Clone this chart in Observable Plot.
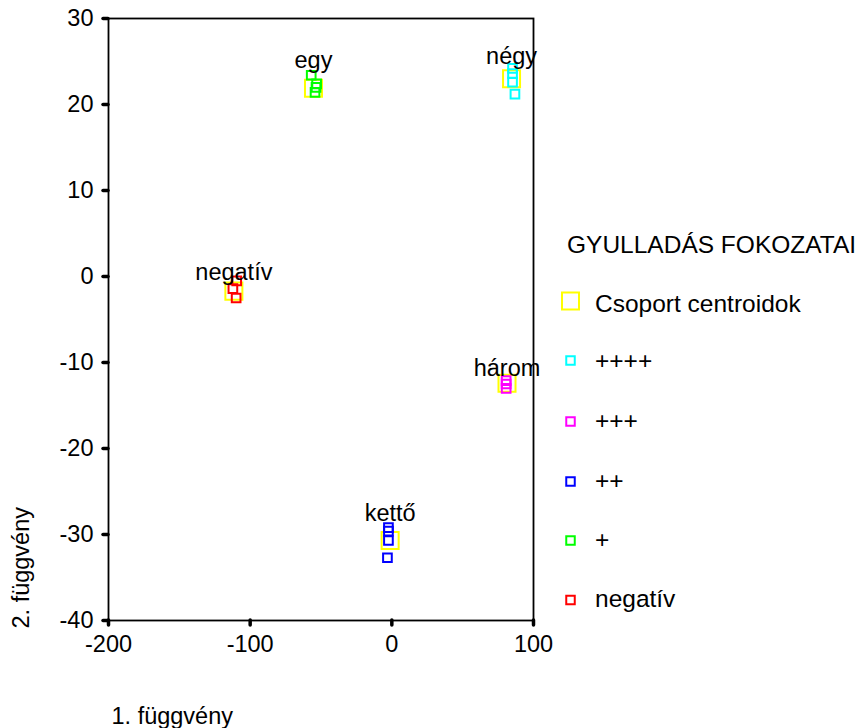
<!DOCTYPE html>
<html>
<head>
<meta charset="utf-8">
<script src="https://cdn.jsdelivr.net/npm/d3@7"></script>
<script src="https://cdn.jsdelivr.net/npm/@observablehq/plot@0.6"></script>
<style>
  html, body { margin: 0; padding: 0; background: #fff; }
  #wrap { position: relative; width: 863px; height: 728px; font-family: "Liberation Sans", Arial, sans-serif; }
  #wrap svg { position: absolute; left: 0; top: 0; }
</style>
</head>
<body>
<div id="wrap"></div>
<script>
// ---- data ----
const groups = ["negatív", "+", "++", "+++", "++++"];
const groupNames = ["negatív", "egy", "kettő", "három", "négy"];
const groupColors = ["#ff0000", "#00ff00", "#0000ff", "#ff00ff", "#00ffff"];

// group centroids (function 1, function 2)
const centroidX = [-111.5, -55.3, -1.2, 81.3, 84.5];
const centroidY = [-1.7, 21.9, -30.7, -12.4, 23.0];
// label anchor heights (data units, baseline)
const labelY = [-0.4, 24.2, -28.4, -11.6, 24.7];

// individual cases
const caseGroup = ["negatív","negatív","negatív",
                   "+","+","+","+",
                   "++","++","++","++",
                   "+++","+++","+++",
                   "++++","++++","++++","++++"];
const caseX = [-109.5, -112.2, -109.9,
               -56.9, -53.1, -53.5, -54.2,
               -2.4, -2.4, -2.4, -3.1,
               80.7, 80.7, 80.7,
               85.2, 85.2, 85.2, 86.9];
const caseY = [-0.5, -1.4, -2.5,
               23.4, 22.4, 22.0, 21.4,
               -29.2, -29.6, -30.7, -32.7,
               -12.1, -12.5, -13.0,
               24.2, 23.6, 22.6, 21.2];

const xTicks = [-200, -100, 0, 100];
const yTicks = [-40, -30, -20, -10, 0, 10, 20, 30];

const legendTitle = "GYULLADÁS FOKOZATAI";
const legendLabels = ["Csoport centroidok", "++++", "+++", "++", "+", "negatív"];
const legendColors = ["#ffff00", "#00ffff", "#ff00ff", "#0000ff", "#00ff00", "#ff0000"];

// ---- tables ----
const centroids = groups.map((g, i) => ({group: g, name: groupNames[i], x: centroidX[i], y: centroidY[i], ly: labelY[i]}));
const cases = caseGroup.map((g, i) => ({group: g, x: caseX[i], y: caseY[i]}));

const FONT = "'Liberation Sans', Arial, sans-serif";
const FS = 23.5;

const chart = Plot.plot({
  width: 863,
  height: 728,
  marginLeft: 108,
  marginRight: 330,
  marginTop: 18,
  marginBottom: 108,
  style: {fontFamily: FONT, fontSize: FS + "px", color: "black", background: "white"},
  x: {domain: [-200, 100]},
  y: {domain: [-40, 30]},
  color: {domain: groups, range: groupColors},
  marks: [
    Plot.frame({stroke: "black", strokeWidth: 1.8}),
    Plot.axisX({ticks: xTicks, tickFormat: d => String(d), tickSize: 5, tickPadding: 10, strokeWidth: 3.5, strokeLinecap: "round", fontSize: FS, label: null}),
    Plot.axisY({ticks: yTicks, tickFormat: d => String(d), tickSize: 5, tickPadding: 10, strokeWidth: 3.5, strokeLinecap: "round", fontSize: FS, label: null}),
    Plot.dot(centroids, {x: "x", y: "y", symbol: "square", r: 9.6, stroke: "#ffff00", strokeWidth: 2, fill: "none"}),
    Plot.dot(cases, {x: "x", y: "y", symbol: "square", r: 4.9, stroke: "group", strokeWidth: 2, fill: "none"}),
    Plot.text(centroids, {x: "x", y: "ly", text: "name", fontSize: FS, fill: "black", textAnchor: "middle", lineAnchor: "bottom"}),
    Plot.text(["1. függvény"], {text: d => d, frameAnchor: "bottom-left", dx: 3, dy: 103, textAnchor: "start", lineAnchor: "bottom", fontSize: FS, fill: "black"}),
    Plot.text(["2. függvény"], {text: d => d, frameAnchor: "bottom-left", dx: -80, dy: 8, rotate: -90, textAnchor: "start", lineAnchor: "bottom", fontSize: FS, fill: "black"})
  ]
});
document.getElementById("wrap").appendChild(chart);

// ---- legend (right side) ----
const lg = d3.select("#wrap").append("svg")
  .attr("width", 863).attr("height", 728)
  .style("pointer-events", "none")
  .style("font-family", FONT)
  .style("font-size", "24.5px");
lg.append("text").attr("x", 567).attr("y", 253).attr("fill", "black").text(legendTitle);
const centers = [301, 360.5, 421.5, 481.5, 540.5, 600];
const baselines = [312, 368.5, 429, 489, 548, 607];
legendLabels.forEach((lab, i) => {
  const s = i === 0 ? 17 : 8.5;
  lg.append("rect")
    .attr("x", 570.5 - s / 2).attr("y", centers[i] - s / 2)
    .attr("width", s).attr("height", s)
    .attr("fill", "none").attr("stroke", legendColors[i]).attr("stroke-width", 2);
  lg.append("text").attr("x", 595).attr("y", baselines[i]).attr("fill", "black").text(lab);
});
</script>
</body>
</html>
